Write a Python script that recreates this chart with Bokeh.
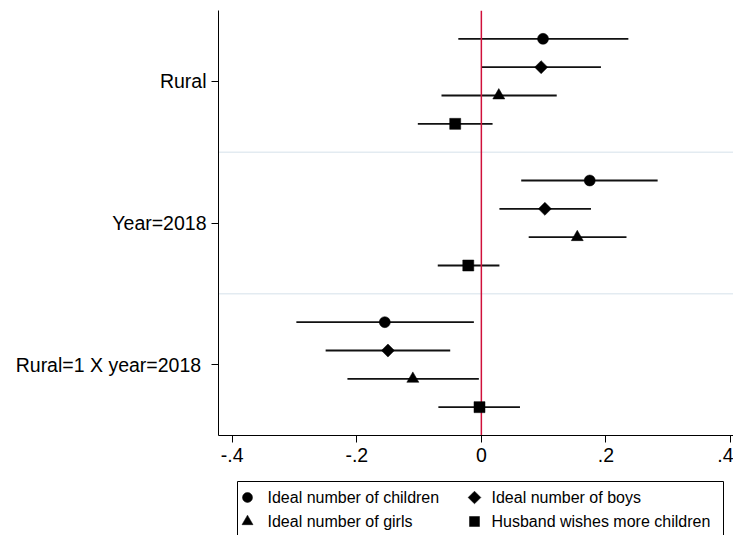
import math
from bokeh.plotting import figure
from bokeh.layouts import column
from bokeh.models import Range1d, FixedTicker, Span, ColumnDataSource
from bokeh.core.properties import value
from bokeh.embed import file_html
from bokeh.resources import INLINE

# ---------------- data ----------------
categories = ["Rural", "Year=2018", "Rural=1  X year=2018"]

series_names = ["Ideal number of children", "Ideal number of boys",
                "Ideal number of girls", "Husband wishes more children"]

# point estimates per category (Rural, Year=2018, Rural=1 X year=2018)
children_coef = [0.099, 0.174, -0.155]
children_lo = [-0.037, 0.064, -0.297]
children_hi = [0.236, 0.283, -0.012]

boys_coef = [0.096, 0.102, -0.150]
boys_lo = [0.000, 0.029, -0.250]
boys_hi = [0.192, 0.176, -0.050]

girls_coef = [0.028, 0.154, -0.110]
girls_lo = [-0.064, 0.076, -0.215]
girls_hi = [0.121, 0.233, -0.004]

husband_coef = [-0.042, -0.021, -0.003]
husband_lo = [-0.102, -0.070, -0.069]
husband_hi = [0.018, 0.029, 0.062]

x_ticks = [-0.4, -0.2, 0.0, 0.2, 0.4]
x_tick_labels = ["-.4", "-.2", "0", ".2", ".4"]

# ---------------- styling ----------------
FONT = "Liberation Sans"
offsets = [-0.3, -0.1, 0.1, 0.3]
# (marker, plot size, legend size, angle)
markers = [("circle", 11, 10, 0.0), ("square", 9.2, 9, math.pi / 4),
           ("triangle", 12, 11, 0.0), ("square", 11, 10, 0.0)]

FRAME_LEFT = 218
W, H_MAIN, H_LEG = 733, 470, 65

p = figure(width=W, height=H_MAIN, output_backend="svg", toolbar_location=None,
           x_range=Range1d(-0.422, 0.4048), y_range=Range1d(2.5, -0.5),
           min_border_left=FRAME_LEFT, min_border_right=0, min_border_top=10,
           min_border_bottom=35)
p.outline_line_color = None
p.xgrid.grid_line_color = None
p.ygrid.grid_line_color = None
p.background_fill_color = "white"
p.border_fill_color = "white"

# axes
p.xaxis.ticker = FixedTicker(ticks=x_ticks)
p.xaxis.major_label_overrides = {t: l for t, l in zip(x_ticks, x_tick_labels)}
p.yaxis.ticker = FixedTicker(ticks=list(range(len(categories))))
p.yaxis.major_label_overrides = {i: c for i, c in enumerate(categories)}
for ax in (p.xaxis, p.yaxis):
    ax.axis_line_color = "black"
    ax.axis_line_width = 1
    ax.major_tick_line_color = "black"
    ax.major_tick_out = 7
    ax.major_tick_in = 0
    ax.minor_tick_line_color = None
    ax.major_label_text_font = FONT
    ax.major_label_text_font_size = "19.5px"
    ax.major_label_text_color = "black"
    ax.major_label_standoff = 5

# group separators
for i in range(len(categories) - 1):
    p.add_layout(Span(location=i + 0.5, dimension="width",
                      line_color="#e3ebf1", line_width=1.5, level="underlay"))

all_series = [
    (children_coef, children_lo, children_hi),
    (boys_coef, boys_lo, boys_hi),
    (girls_coef, girls_lo, girls_hi),
    (husband_coef, husband_lo, husband_hi),
]

for k, (coef, lo, hi) in enumerate(all_series):
    ys = [i + offsets[k] for i in range(len(categories))]
    src = ColumnDataSource(dict(y=ys, coef=coef, lo=lo, hi=hi))
    p.segment(x0="lo", y0="y", x1="hi", y1="y", source=src,
              line_color="#111111", line_width=1.8)
    m, s, _, ang = markers[k]
    p.scatter(x="coef", y="y", source=src, marker=m, size=s, angle=ang,
              fill_color="black", line_color="black", line_width=0.5,
              level="overlay")

zero = Span(location=0, dimension="height", line_color="#d0103a",
            line_width=1.5, level="glyph")
p.add_layout(zero)

# ---------------- legend strip (screen-pixel coordinates) ----------------
# x in page pixels, y in page pixels (top of legend strip = H_MAIN)
lf = figure(width=W, height=H_LEG, output_backend="svg", toolbar_location=None,
            x_range=Range1d(FRAME_LEFT, W), y_range=Range1d(H_MAIN + H_LEG, H_MAIN),
            x_axis_location=None, y_axis_location=None, min_border=0,
            min_border_left=FRAME_LEFT)
lf.outline_line_color = None
lf.xgrid.grid_line_color = None
lf.ygrid.grid_line_color = None

box_left, box_right, box_top = 237, 723, 481
col_glyph_x = [247, 474]
col_text_x = [267, 491]
row_y = [497, 521]

lf.quad(left=[box_left], right=[box_right], top=[box_top], bottom=[H_MAIN + H_LEG + 5],
        fill_color="white", line_color="black", line_width=1)

for k, name in enumerate(series_names):
    r, c = divmod(k, 2)
    m, _, ls, ang = markers[k]
    lf.scatter(x=[col_glyph_x[c]], y=[row_y[r]], marker=m, size=ls, angle=ang,
               fill_color="black", line_color="black", line_width=0.5)
    lf.text(x=[col_text_x[c]], y=[row_y[r]], text=[name],
            text_font=value(FONT), text_font_size="16px", text_color="black",
            text_align="left", text_baseline="middle")

layout = column(p, lf, spacing=0)
open("out.html", "w").write(file_html(layout, INLINE))
